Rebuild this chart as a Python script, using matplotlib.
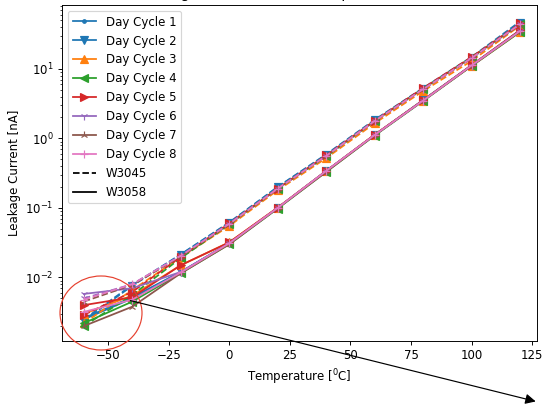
import matplotlib
matplotlib.use("Agg")
import matplotlib.pyplot as plt
from matplotlib.patches import Ellipse, FancyArrowPatch
from matplotlib.lines import Line2D

temps = [-60, -40, -20, 0, 20, 40, 60, 80, 100, 120]

cycle_labels = ["Day Cycle 1", "Day Cycle 2", "Day Cycle 3", "Day Cycle 4",
                "Day Cycle 5", "Day Cycle 6", "Day Cycle 7", "Day Cycle 8"]
cycle_colors = ["C0", "C0", "C1", "C2", "C3", "C4", "C5", "C6"]
cycle_markers = [".", "v", "^", "<", ">", "1", "2", "+"]

# W3045 (dashed)
w3045_c1 = [0.0025, 0.0078, 0.0215, 0.062, 0.200, 0.59, 1.85, 5.3, 14.8, 48]
w3045_c2 = [0.0024, 0.0076, 0.0213, 0.061, 0.200, 0.58, 1.82, 5.2, 14.5, 46]
w3045_c3 = [0.0022, 0.0066, 0.0195, 0.055, 0.180, 0.52, 1.65, 4.8, 13.0, 42]
w3045_c4 = [0.0020, 0.0056, 0.0190, 0.058, 0.190, 0.55, 1.78, 5.2, 14.6, 44]
w3045_c5 = [0.0029, 0.0062, 0.0198, 0.060, 0.190, 0.57, 1.80, 5.3, 14.8, 45]
w3045_c6 = [0.0050, 0.0080, 0.0205, 0.059, 0.190, 0.56, 1.78, 5.1, 14.2, 44]
w3045_c7 = [0.0045, 0.0078, 0.0200, 0.058, 0.190, 0.56, 1.76, 5.1, 14.2, 43]
w3045_c8 = [0.0048, 0.0080, 0.0205, 0.059, 0.190, 0.56, 1.78, 5.1, 14.3, 44]

# W3058 (solid)
w3058_c1 = [0.0026, 0.0052, 0.0120, 0.031, 0.100, 0.34, 1.12, 3.55, 11.3, 36]
w3058_c2 = [0.0025, 0.0050, 0.0120, 0.031, 0.100, 0.34, 1.12, 3.55, 11.2, 35]
w3058_c3 = [0.0030, 0.0055, 0.0150, 0.032, 0.101, 0.34, 1.13, 3.50, 11.0, 34]
w3058_c4 = [0.0022, 0.0045, 0.0115, 0.030, 0.098, 0.33, 1.10, 3.45, 11.0, 34]
w3058_c5 = [0.0040, 0.0052, 0.0150, 0.032, 0.101, 0.34, 1.13, 3.55, 11.3, 36]
w3058_c6 = [0.0058, 0.0070, 0.0120, 0.031, 0.100, 0.34, 1.12, 3.50, 11.1, 35]
w3058_c7 = [0.0020, 0.0038, 0.0115, 0.030, 0.099, 0.33, 1.11, 3.50, 11.1, 35]
w3058_c8 = [0.0032, 0.0048, 0.0118, 0.031, 0.100, 0.34, 1.12, 3.50, 11.2, 35]

w3045 = [w3045_c1, w3045_c2, w3045_c3, w3045_c4, w3045_c5, w3045_c6, w3045_c7, w3045_c8]
w3058 = [w3058_c1, w3058_c2, w3058_c3, w3058_c4, w3058_c5, w3058_c6, w3058_c7, w3058_c8]

fig = plt.figure(figsize=(6.4, 4.765), dpi=85)
W, H = 544, 405
ax = fig.add_axes([62 / W, 1 - 341 / H, (537 - 62) / W, (341 - 5) / H])

for i in range(8):
    ax.plot(temps, w3045[i], linestyle="--", color=cycle_colors[i], marker=cycle_markers[i])
    ax.plot(temps, w3058[i], linestyle="-", color=cycle_colors[i], marker=cycle_markers[i])

ax.set_yscale("log")
ax.set_xlim(-69, 127)
ax.set_ylim(1.22e-3, 83)
ax.set_xticks([-50, -25, 0, 25, 50, 75, 100, 125])
ax.set_xlabel(r"Temperature [$^0$C]")
ax.set_ylabel("Leakage Current [nA]")
ax.set_title("Leakage Current versus Temperature", x=0.44)

handles = [Line2D([], [], color=cycle_colors[i], marker=cycle_markers[i], linestyle="-")
           for i in range(8)]
handles += [Line2D([], [], color="k", linestyle="--"), Line2D([], [], color="k", linestyle="-")]
labels = cycle_labels + ["W3045", "W3058"]
ax.legend(handles, labels, loc="upper left")

ell = Ellipse((101 / W, 1 - 313 / H), 82 / W, 74 / H, transform=fig.transFigure,
              fill=False, edgecolor="#e6402e", linewidth=1.0)
fig.add_artist(ell)
arrow = FancyArrowPatch((128 / W, 1 - 300 / H), (538 / W, 1 - 402 / H),
                        transform=fig.transFigure, arrowstyle="-|>",
                        mutation_scale=18, color="k", linewidth=1.0)
fig.add_artist(arrow)

fig.savefig("out.png", dpi=85)
